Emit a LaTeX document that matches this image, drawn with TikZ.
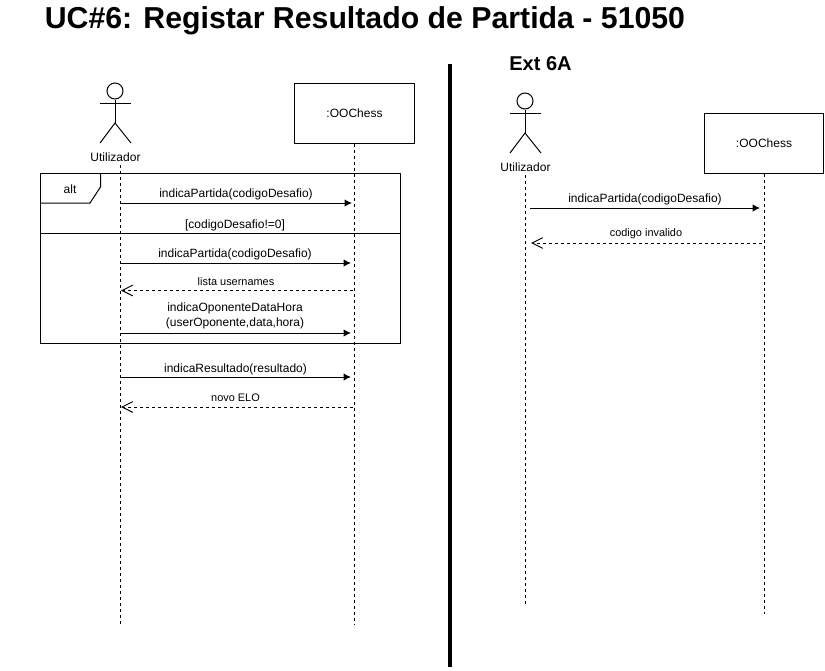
\documentclass[tikz,border=0pt]{standalone}
\usepackage{fontspec}
\setmainfont{Liberation Sans}
\usetikzlibrary{arrows.meta}

\begin{document}
\begin{tikzpicture}[> = latex, x = 0.75pt, y = -0.75pt, line width = 0.75pt,
	actorhead/.style = {draw, circle, minimum size = 12pt, inner sep = 0pt},
	objectbox/.style = {draw, minimum width = 89.5pt, minimum height = 45pt, font = \fontsize{9}{11}\selectfont},
	actorname/.style = {font = \fontsize{9}{11}\selectfont},
	msglabel/.style = {inner sep = 0pt, yshift = -1pt, align = center, font = \fontsize{9}{11.25}\selectfont},
	replylabel/.style = {inner sep = 0pt, font = \fontsize{8.2}{10}\selectfont},
	lifeline/.style = {dash pattern = on 2.25pt off 2.25pt},
	callarrow/.style = {->, >={Latex[length=5.5pt, width=5.5pt]}},
	replyarrow/.style = {->, >={Straight Barb[length=8pt, width=8pt]}, dash pattern = on 2.25pt off 2.25pt}]

	\useasboundingbox (0, 0) rectangle (825, 671);

	% Titles

	\node [inner sep = 0pt, font = \fontsize{22.7}{26}\selectfont\bfseries] (title) at (365, 21) {UC\#6: Registar Resultado de Partida - 51050};
	\node [inner sep = 0pt, font = \fontsize{15}{18}\selectfont\bfseries] (ext) at (540.5, 64) {Ext 6A};

	% Separator

	\coordinate (septop) at (450, 64);
	\coordinate (sepbot) at (450, 667);
	\draw [line width = 3pt] (septop) -- (sepbot);

	% Left actor

	\node [actorhead] (headL) at (115, 91) {};
	\coordinate (hipL) at (115, 123);
	\draw (headL.south) -- (hipL);
	\draw (100, 103) -- (131, 103);
	\draw (100, 143) -- (hipL) -- (131, 143);
	\node [actorname] (userL) at (115.5, 157) {Utilizador};

	% Left object and lifelines

	\node [objectbox] (chessL) at (354.5, 113) {:OOChess};
	\coordinate (endUserL) at (120.5, 624);
	\coordinate (startUserL) at (120.5, 165);
	\coordinate (endChessL) at (354, 624);
	\draw [lifeline] (startUserL) -- (endUserL);
	\draw [lifeline] (chessL.south -| endChessL) -- (endChessL);

	% Alt frame

	\node [draw, minimum width = 270pt, minimum height = 127.5pt, inner sep = 0pt] (frame) at (220.5, 258) {};
	\coordinate (tabA) at (100.5, 173);
	\coordinate (tabB) at (100.5, 187);
	\coordinate (tabC) at (90, 203);
	\coordinate (tabD) at (40.5, 203);
	\draw (tabA) -- (tabB) -- (tabC) -- (tabD);
	\node [msglabel] (alt) at (70, 187.5) {alt};
	\coordinate (splitA) at (40.5, 233);
	\coordinate (splitB) at (400.5, 233);
	\draw (splitA) -- (splitB);
	\node [msglabel] (guard) at (235, 224) {[codigoDesafio!=0]};

	% Left messages

	\coordinate (a1) at (121, 203);
	\coordinate (b1) at (352, 203);
	\draw [callarrow] (a1) -- (b1);
	\node [msglabel] (m1) at (236, 193) {indicaPartida(codigoDesafio)};

	\coordinate (a2) at (121, 263);
	\coordinate (b2) at (351, 263);
	\draw [callarrow] (a2) -- (b2);
	\node [msglabel] (m2) at (235, 253) {indicaPartida(codigoDesafio)};

	\coordinate (a3) at (121, 290.5);
	\coordinate (b3) at (353, 290.5);
	\draw [replyarrow] (b3) -- (a3);
	\node [replylabel] (m3) at (236, 281.5) {lista usernames};

	\coordinate (a4) at (121, 333);
	\coordinate (b4) at (351, 333);
	\draw [callarrow] (a4) -- (b4);
	\node [msglabel] (m4) at (235, 314.5) {indicaOponenteDataHora\\(userOponente,data,hora)};

	\coordinate (a5) at (121, 377);
	\coordinate (b5) at (351, 377);
	\draw [callarrow] (a5) -- (b5);
	\node [msglabel] (m5) at (235.5, 368) {indicaResultado(resultado)};

	\coordinate (a6) at (121, 407);
	\coordinate (b6) at (353, 407);
	\draw [replyarrow] (b6) -- (a6);
	\node [replylabel] (m6) at (235.5, 398) {novo ELO};

	% Right actor

	\node [actorhead] (headR) at (525, 101) {};
	\coordinate (hipR) at (525, 133);
	\draw (headR.south) -- (hipR);
	\draw (510, 113) -- (541, 113);
	\draw (510, 153) -- (hipR) -- (541, 153);
	\node [actorname] (userR) at (525.5, 167) {Utilizador};

	% Right object and lifelines

	\node [objectbox] (chessR) at (764, 143) {:OOChess};
	\coordinate (startUserR) at (525, 175);
	\coordinate (endUserR) at (525, 604);
	\coordinate (endChessR) at (764.5, 614);
	\draw [lifeline] (startUserR) -- (endUserR);
	\draw [lifeline] (chessR.south -| endChessR) -- (endChessR);

	% Right messages

	\coordinate (c1) at (530, 208);
	\coordinate (d1) at (760, 208);
	\draw [callarrow] (c1) -- (d1);
	\node [msglabel] (n1) at (645, 198) {indicaPartida(codigoDesafio)};

	\coordinate (c2) at (531, 243);
	\coordinate (d2) at (762, 243);
	\draw [replyarrow] (d2) -- (c2);
	\node [replylabel] (n2) at (646, 234) {codigo invalido};

\end{tikzpicture}
\end{document}
